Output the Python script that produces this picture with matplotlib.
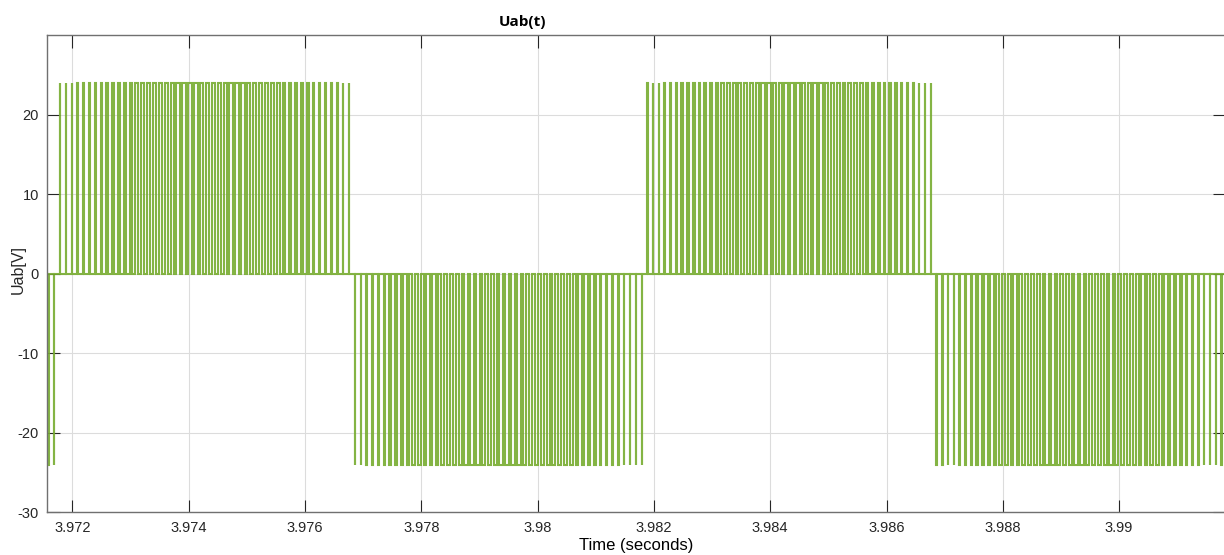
import matplotlib
matplotlib.use("Agg")
import matplotlib.pyplot as plt
import numpy as np

# half-cycles of the inverter output (start, end, sign)
HALF_START = [3.96674, 3.97174, 3.97681, 3.98184, 3.98681]
HALF_END = [3.97174, 3.97681, 3.98184, 3.98681, 3.99181]
HALF_SIGN = [-1, 1, -1, 1, -1]
U_DC = 24.0

# estimated pulse duty per carrier period inside one half-cycle (50 periods)
DUTY = [0.02, 0.06, 0.09, 0.13, 0.17, 0.20, 0.24, 0.27, 0.31, 0.34,
        0.37, 0.40, 0.42, 0.45, 0.47, 0.50, 0.52, 0.53, 0.55, 0.56,
        0.58, 0.59, 0.59, 0.60, 0.60, 0.60, 0.60, 0.59, 0.59, 0.58,
        0.56, 0.55, 0.53, 0.52, 0.50, 0.47, 0.45, 0.42, 0.40, 0.37,
        0.34, 0.31, 0.27, 0.24, 0.20, 0.17, 0.13, 0.09, 0.06, 0.02]

XTICKS = [3.972, 3.974, 3.976, 3.978, 3.980, 3.982, 3.984, 3.986, 3.988, 3.990]
XTICKLABELS = ["3.972", "3.974", "3.976", "3.978", "3.98", "3.982",
               "3.984", "3.986", "3.988", "3.99"]
YTICKS = [-30, -20, -10, 0, 10, 20]
XLIM = (3.97157, 3.99182)
YLIM = (-30, 30)

GREEN = "#77AC30"
W, H = 1224, 555


def build_wave():
    xs, ys = [HALF_START[0]], [0.0]
    for t0, t1, s in zip(HALF_START, HALF_END, HALF_SIGN):
        T = (t1 - t0) / len(DUTY)
        for k, d in enumerate(DUTY):
            c = t0 + (k + 0.5) * T
            a, b = c - d * T / 2, c + d * T / 2
            xs += [a, a, b, b]
            ys += [0.0, s * U_DC, s * U_DC, 0.0]
    xs.append(HALF_END[-1])
    ys.append(0.0)
    return np.array(xs), np.array(ys)


def main():
    plt.rcParams["font.family"] = ["Liberation Sans", "DejaVu Sans"]
    plt.rcParams["axes.unicode_minus"] = False
    fig = plt.figure(figsize=(W / 100, H / 100), dpi=100)
    ax = fig.add_axes([47.3 / W, 1 - 512.4 / H, (W - 47.3 + 1) / W, (512.4 - 35.3) / H])

    x, y = build_wave()
    ax.plot(x, y, color=GREEN, lw=1.5, alpha=0.9, solid_joinstyle="miter")

    ax.set_xlim(*XLIM)
    ax.set_ylim(*YLIM)
    ax.set_xticks(XTICKS)
    ax.set_xticklabels(XTICKLABELS)
    ax.set_yticks(YTICKS)
    ax.grid(True, color="#dcdcdc", lw=0.8)
    ax.set_axisbelow(True)
    ax.tick_params(direction="in", length=9, width=0.8, top=True, right=True,
                   labelsize=10.5, colors="#262626", pad=6)
    for sp in ax.spines.values():
        sp.set_color("#707070")
        sp.set_linewidth(1.0)

    ax.set_xlabel("Time (seconds)", fontsize=12, labelpad=2)
    fig.text(18 / W, 1 - 270 / H, "Uab[V]", rotation=90, ha="center", va="center",
             fontsize=11.5, color="#262626")
    fig.text(523 / W, 1 - 22 / H, "Uab(t)", ha="center", va="center",
             fontsize=11, fontweight="bold", family=["Open Sans", "DejaVu Sans"])

    fig.savefig("out.png", dpi=100)
    plt.close(fig)


if __name__ == "__main__":
    main()
